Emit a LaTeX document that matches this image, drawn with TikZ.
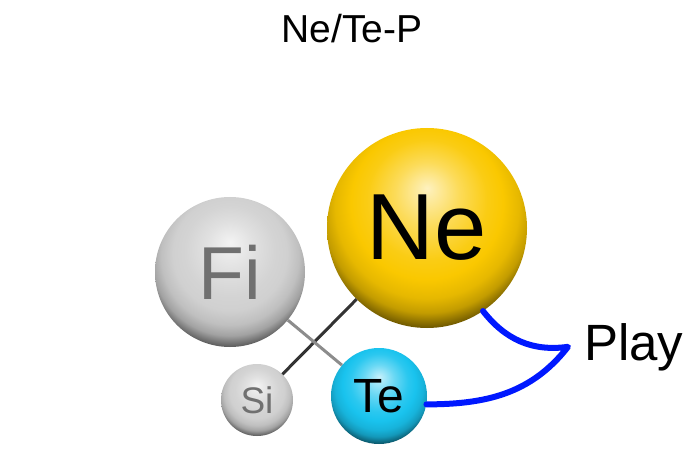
\documentclass[tikz,border=0pt]{standalone}
\usepackage{fontspec}
\setmainfont{Liberation Sans}
\usetikzlibrary{positioning}

% glossy sphere shading, highlight near the top
\makeatletter
\pgfdeclareradialshading[tikz@ball]{glossy}{\pgfqpoint{0bp}{10bp}}{%
  color(0bp)=(tikz@ball!25!white);
  color(8bp)=(tikz@ball!65!white);
  color(15bp)=(tikz@ball!92!white);
  color(19bp)=(tikz@ball);
  color(23bp)=(tikz@ball!92!black);
  color(26bp)=(tikz@ball!78!black);
  color(29bp)=(tikz@ball!45!black);
  color(50bp)=(tikz@ball!45!black)}
\makeatother

\definecolor{neyellow}{RGB}{250,200,0}
\definecolor{fegray}{RGB}{208,208,208}
\definecolor{tecyan}{RGB}{25,195,238}
\definecolor{linkblue}{RGB}{0,24,255}
\definecolor{labelgray}{RGB}{112,112,112}

\tikzset{
  sphere/.style={circle, inner sep=0pt, ball color=#1, shading=glossy},
  bond/.style={line width=3pt},
}

\begin{document}
\begin{tikzpicture}[x=1pt,y=1pt]
        \useasboundingbox (0,0) rectangle (695,458);

        % Title
        \node[anchor=base, inner sep=0pt, font=\fontsize{39}{44}\selectfont] (title) at (352,415) {Ne/Te-P};

        % Spheres
        \node[sphere=neyellow, minimum size=200pt, font=\fontsize{94}{100}\selectfont] (ne) at (427,230) {Ne};
        \node[sphere=fegray, minimum size=150pt, text=labelgray, font=\fontsize{75}{80}\selectfont] (fi) at (230,186) {Fi};
        \node[sphere=fegray, minimum size=72pt, text=labelgray, font=\fontsize{37}{40}\selectfont] (si) at (257,58) {Si};
        \node[sphere=tecyan, minimum size=96pt, font=\fontsize{48}{52}\selectfont] (te) at (379,62) {Te};

        % Bonds
        \draw[bond, black!80] (ne) -- (si);
        \draw[bond, black!45] (fi) -- (te);

        % Play link
        \node[anchor=base west, inner sep=0pt, font=\fontsize{51}{56}\selectfont] (play) at (584,98) {Play};
        \coordinate[left=16pt of play.west] (tip);
        \draw[linkblue, line width=6pt, line cap=round, line join=round]
          (ne.-56) to[out=-52, in=188] (tip) to[out=-128, in=0] (te.-10);
    \end{tikzpicture}
\end{document}
